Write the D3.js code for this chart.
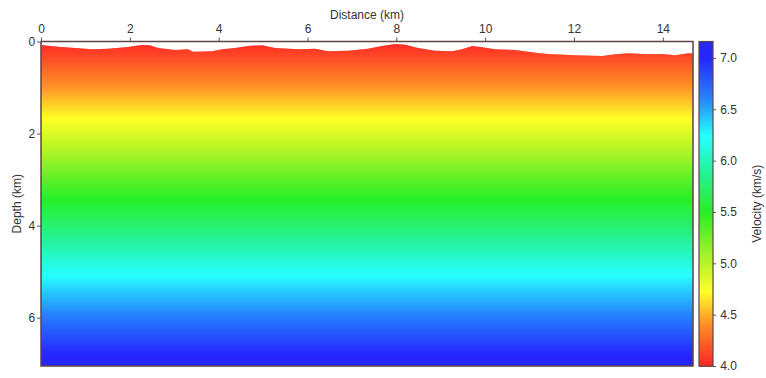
<!DOCTYPE html>
<html><head><meta charset="utf-8">
<script src="https://cdn.jsdelivr.net/npm/d3@7"></script>
<style>
body{margin:0;background:#fff;}
text{font-family:"Liberation Sans",Arial,Helvetica,sans-serif;fill:#333;}
</style></head>
<body>
<svg id="chart" width="766" height="378"></svg>
<script>
// ---- data ----
const surfaceDistance = [0,0.05,0.38,0.77,1.15,1.51,1.96,2.27,2.45,2.64,3.02,3.31,3.42,3.85,4.08,4.37,4.66,4.98,5.27,5.79,6.17,6.46,6.91,7.36,7.68,7.97,8.2,8.49,8.87,9.26,9.48,9.71,9.93,10.23,10.68,11.13,11.42,12.03,12.64,12.93,13.22,13.67,13.99,14.28,14.57,14.68];
const surfaceDepth    = [0.08,0.083,0.113,0.141,0.17,0.157,0.12,0.076,0.083,0.141,0.185,0.17,0.222,0.213,0.17,0.141,0.098,0.083,0.141,0.17,0.157,0.213,0.2,0.157,0.098,0.054,0.07,0.141,0.2,0.213,0.17,0.098,0.126,0.17,0.185,0.243,0.272,0.3,0.315,0.278,0.257,0.278,0.272,0.3,0.257,0.26];
const profileDepth    = [0,1,2,3,4,5,6,7,7.05];
const profileVelocity = [4.0,4.42,4.86,5.31,5.75,6.2,6.64,7.08,7.1];
const xTicks = [0,2,4,6,8,10,12,14];
const yTicks = [0,2,4,6];
const cbTicks = [4.0,4.5,5.0,5.5,6.0,6.5,7.0];
const cmapValues = [4.0,4.4,4.72,5.1,5.5,5.9,6.24,6.6,7.0,7.16];
const cmapColors = ["#ff0000","#ff7a00","#ffff00","#8cf000","#00ec00","#00f08c","#00ffff","#0070ff","#0000ff","#0000f0"];

// ---- layout ----
const svg = d3.select("#chart");
const L=41, R=693, T=41.5, B=366;
const x = d3.scaleLinear().domain([0,14.68]).range([L,R]);
const y = d3.scaleLinear().domain([0,7.05]).range([T,B]);
const vel = d3.scaleLinear().domain(profileDepth).range(profileVelocity);
const color = d3.scaleLinear().domain(cmapValues).range(cmapColors).clamp(true);
const frameColor = "#5e4545";

// clip by topography
const area = d3.area().x((d,i)=>x(surfaceDistance[i])).y0(B).y1((d,i)=>y(surfaceDepth[i]));
svg.append("clipPath").attr("id","topo").append("path").attr("d",area(surfaceDepth));

const g = svg.append("g").attr("clip-path","url(#topo)");
const rows = d3.range(T, B, 1);
g.selectAll("rect").data(rows).join("rect")
  .attr("x",L).attr("width",R-L)
  .attr("y",d=>d).attr("height",1.2)
  .attr("fill",d=>color(vel(y.invert(d+0.5))));

// frame
svg.append("rect").attr("x",L).attr("y",T).attr("width",R-L).attr("height",B-T)
  .attr("fill","none").attr("stroke",frameColor).attr("stroke-width",1.5);

// axes
const xa = svg.append("g").attr("transform",`translate(0,${T})`)
  .call(d3.axisTop(x).tickValues(xTicks).tickSize(4).tickSizeOuter(0).tickFormat(d3.format("d")));
const ya = svg.append("g").attr("transform",`translate(${L},0)`)
  .call(d3.axisLeft(y).tickValues(yTicks).tickSize(4).tickSizeOuter(0).tickFormat(d3.format("d")));
[xa,ya].forEach(a=>{
  a.select(".domain").remove();
  a.selectAll("line").attr("stroke","#555");
  a.selectAll("text").attr("font-size",12).style("font-family","Liberation Sans, Arial, sans-serif").attr("fill","#333");
});
xa.selectAll("text").attr("dy","-0.1em");
ya.selectAll("text").attr("dx","0.1em").attr("dy","0.35em");

svg.append("text").attr("x",(L+R)/2-0).attr("y",19).attr("text-anchor","middle").attr("font-size",12).text("Distance (km)");
svg.append("text").attr("transform",`translate(21,${(T+B)/2}) rotate(-90)`).attr("text-anchor","middle").attr("font-size",12).text("Depth (km)");

// colorbar
const CL=699, CR=713;
const cy = d3.scaleLinear().domain([4.0,7.16]).range([B,T]);
const cbRows = d3.range(T, B, 1);
svg.append("g").selectAll("rect").data(cbRows).join("rect")
  .attr("x",CL).attr("width",CR-CL).attr("y",d=>d).attr("height",1.2)
  .attr("fill",d=>color(cy.invert(d+0.5)));
svg.append("rect").attr("x",CL).attr("y",T).attr("width",CR-CL).attr("height",B-T)
  .attr("fill","none").attr("stroke",frameColor).attr("stroke-width",1.2);
const ca = svg.append("g").attr("transform",`translate(${CR},0)`)
  .call(d3.axisRight(cy).tickValues(cbTicks).tickSize(3).tickSizeOuter(0).tickFormat(d3.format(".1f")));
ca.select(".domain").remove();
ca.selectAll("line").attr("stroke","#555");
ca.selectAll("text").attr("font-size",12).style("font-family","Liberation Sans, Arial, sans-serif").attr("fill","#333").attr("dx","0.1em");
svg.append("text").attr("transform",`translate(761,${(T+B)/2}) rotate(-90)`).attr("text-anchor","middle").attr("font-size",12).text("Velocity (km/s)");
</script>
</body></html>
